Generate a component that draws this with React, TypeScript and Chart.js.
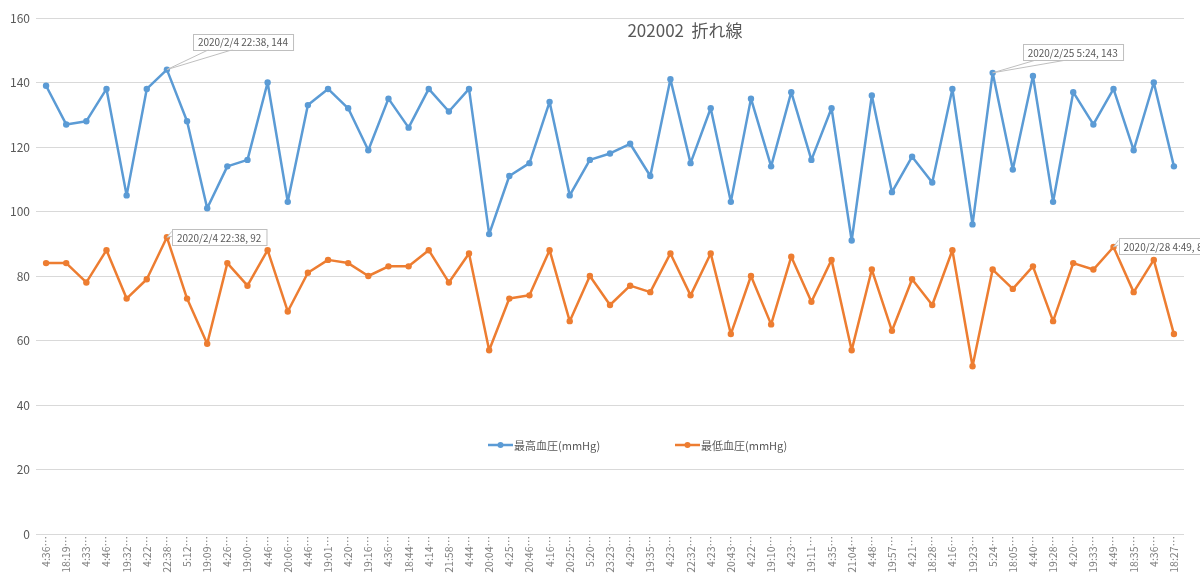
import { useEffect, useRef } from "react";
import { Chart, registerables } from "chart.js";

Chart.register(...registerables);

const FONT = '"Noto Sans CJK JP", "Noto Sans", sans-serif';
const TEXT = "#595959";

const times = [
  "4:36", "18:19", "4:33", "4:46", "19:32", "4:22", "22:38", "5:12", "19:09", "4:26",
  "19:00", "4:46", "20:06", "4:46", "19:01", "4:20", "19:16", "4:36", "18:44", "4:14",
  "21:58", "4:44", "20:04", "4:25", "20:46", "4:16", "20:25", "5:20", "23:23", "4:29",
  "19:35", "4:23", "22:32", "4:23", "20:43", "4:22", "19:10", "4:23", "19:11", "4:35",
  "21:04", "4:48", "19:57", "4:21", "18:28", "4:16", "19:23", "5:24", "18:05", "4:40",
  "19:28", "4:20", "19:33", "4:49", "18:35", "4:36", "18:27",
];

const highBp = [
  139, 127, 128, 138, 105, 138, 144, 128, 101, 114,
  116, 140, 103, 133, 138, 132, 119, 135, 126, 138,
  131, 138, 93, 111, 115, 134, 105, 116, 118, 121,
  111, 141, 115, 132, 103, 135, 114, 137, 116, 132,
  91, 136, 106, 117, 109, 138, 96, 143, 113, 142,
  103, 137, 127, 138, 119, 140, 114,
];

const lowBp = [
  84, 84, 78, 88, 73, 79, 92, 73, 59, 84,
  77, 88, 69, 81, 85, 84, 80, 83, 83, 88,
  78, 87, 57, 73, 74, 88, 66, 80, 71, 77,
  75, 87, 74, 87, 62, 80, 65, 86, 72, 85,
  57, 82, 63, 79, 71, 88, 52, 82, 76, 83,
  66, 84, 82, 89, 75, 85, 62,
];

const seriesNames = ["最高血圧(mmHg)", "最低血圧(mmHg)"];
const title = "202002  折れ線";
const yTicks = [0, 20, 40, 60, 80, 100, 120, 140, 160];

// data labels shown on a few points: dataset, point index, date text
const calloutDataset = [0, 1, 0, 1];
const calloutIndex = [6, 6, 47, 53];
const calloutDate = ["2020/2/4 22:38", "2020/2/4 22:38", "2020/2/25 5:24", "2020/2/28 4:49"];

// where each callout box sits relative to its point, and how the pointer attaches
const calloutStyle = [
  { dx: 26, dy: -36, pointer: "bottom", a: 16, b: 40 },
  { dx: 5, dy: -8, pointer: "left", a: 2, b: 7 },
  { dx: 30, dy: -29, pointer: "bottom", a: 14, b: 45 },
  { dx: 5, dy: -9, pointer: "left", a: 2, b: 7 },
];

const overlayPlugin = {
  id: "overlay",
  afterDatasetsDraw(chart: Chart) {
    const ctx = chart.ctx;
    const area = chart.chartArea;
    ctx.save();

    // title
    ctx.fillStyle = TEXT;
    ctx.font = `17px ${FONT}`;
    ctx.textAlign = "center";
    ctx.textBaseline = "middle";
    ctx.fillText(title, 685, 31);

    // legend
    const legendY = area.bottom - 89;
    const legendX = [488, 675];
    ctx.font = `11px ${FONT}`;
    ctx.textAlign = "left";
    chart.data.datasets.forEach((ds: any, i: number) => {
      const x = legendX[i];
      ctx.strokeStyle = ds.borderColor;
      ctx.lineWidth = 2.5;
      ctx.beginPath();
      ctx.moveTo(x, legendY);
      ctx.lineTo(x + 25, legendY);
      ctx.stroke();
      ctx.fillStyle = ds.borderColor;
      ctx.beginPath();
      ctx.arc(x + 12.5, legendY, 3, 0, Math.PI * 2);
      ctx.fill();
      ctx.fillStyle = TEXT;
      ctx.fillText(String(ds.label), x + 26, legendY + 1);
    });

    // callouts
    ctx.font = `10px ${FONT}`;
    calloutIndex.forEach((idx, i) => {
      const dsIndex = calloutDataset[i];
      const pt: any = chart.getDatasetMeta(dsIndex).data[idx];
      const value = (chart.data.datasets[dsIndex].data as number[])[idx];
      const text = `${calloutDate[i]}, ${value}`;
      const st = calloutStyle[i];
      const w = ctx.measureText(text).width + 10;
      const h = 16;
      const bx = pt.x + st.dx;
      const by = pt.y + st.dy;

      ctx.fillStyle = "#ffffff";
      ctx.strokeStyle = "#bfbfbf";
      ctx.lineWidth = 1;
      ctx.beginPath();
      if (st.pointer === "bottom") {
        ctx.moveTo(bx + st.a, by + h);
        ctx.lineTo(pt.x, pt.y);
        ctx.lineTo(bx + st.b, by + h);
      } else {
        ctx.moveTo(bx, by + st.a);
        ctx.lineTo(pt.x, pt.y);
        ctx.lineTo(bx, by + st.b);
      }
      ctx.fill();
      ctx.stroke();

      ctx.fillRect(bx, by, w, h);
      ctx.strokeRect(Math.round(bx) + 0.5, Math.round(by) + 0.5, w, h);

      ctx.fillStyle = TEXT;
      ctx.textAlign = "left";
      ctx.textBaseline = "middle";
      ctx.fillText(text, bx + 5, by + h / 2 + 1);
    });

    ctx.restore();
  },
};

export default function App() {
  const canvasRef = useRef<HTMLCanvasElement>(null);
  const chartRef = useRef<Chart | null>(null);

  useEffect(() => {
    if (!canvasRef.current) return;
    Chart.defaults.font.family = FONT;

    const lineStyle = {
      borderWidth: 2.5,
      borderJoinStyle: "round" as const,
      borderCapStyle: "round" as const,
      pointRadius: 3.2,
      pointHoverRadius: 3.2,
      pointBorderWidth: 0,
      tension: 0,
    };

    chartRef.current?.destroy();
    chartRef.current = new Chart(canvasRef.current, {
      type: "line",
      data: {
        labels: times,
        datasets: [
          {
            label: seriesNames[0],
            data: highBp,
            borderColor: "#5b9bd5",
            backgroundColor: "#5b9bd5",
            ...lineStyle,
          },
          {
            label: seriesNames[1],
            data: lowBp,
            borderColor: "#ed7d31",
            backgroundColor: "#ed7d31",
            ...lineStyle,
          },
        ],
      },
      options: {
        responsive: true,
        maintainAspectRatio: false,
        animation: false,
        layout: { padding: { top: 18, right: 16, left: 0, bottom: 0 } },
        plugins: {
          legend: { display: false },
          title: { display: false },
          tooltip: { enabled: false },
        },
        scales: {
          x: {
            offset: true,
            grid: { display: false, drawTicks: false },
            border: { display: false },
            afterFit: (scale: any) => {
              scale.height = 45;
            },
            ticks: {
              autoSkip: false,
              minRotation: 90,
              maxRotation: 90,
              padding: 2,
              color: "#7f7f7f",
              font: { size: 10.5 },
              callback: (_v: any, i: number) => `${times[i]}…`,
            },
          },
          y: {
            min: 0,
            max: 160,
            afterFit: (scale: any) => {
              scale.width = 36;
            },
            afterBuildTicks: (scale: any) => {
              scale.ticks = yTicks.map((v) => ({ value: v }));
            },
            grid: { color: "#d9d9d9", lineWidth: 1, drawTicks: false },
            border: { display: false },
            ticks: {
              color: TEXT,
              padding: 6,
              font: { size: 12 },
            },
          },
        },
      },
      plugins: [overlayPlugin],
    });

    return () => {
      chartRef.current?.destroy();
    };
  }, []);

  return (
    <div style={{ position: "absolute", left: 0, top: 0, width: "1200px", height: "579px", background: "#ffffff" }}>
      <canvas ref={canvasRef} />
    </div>
  );
}
